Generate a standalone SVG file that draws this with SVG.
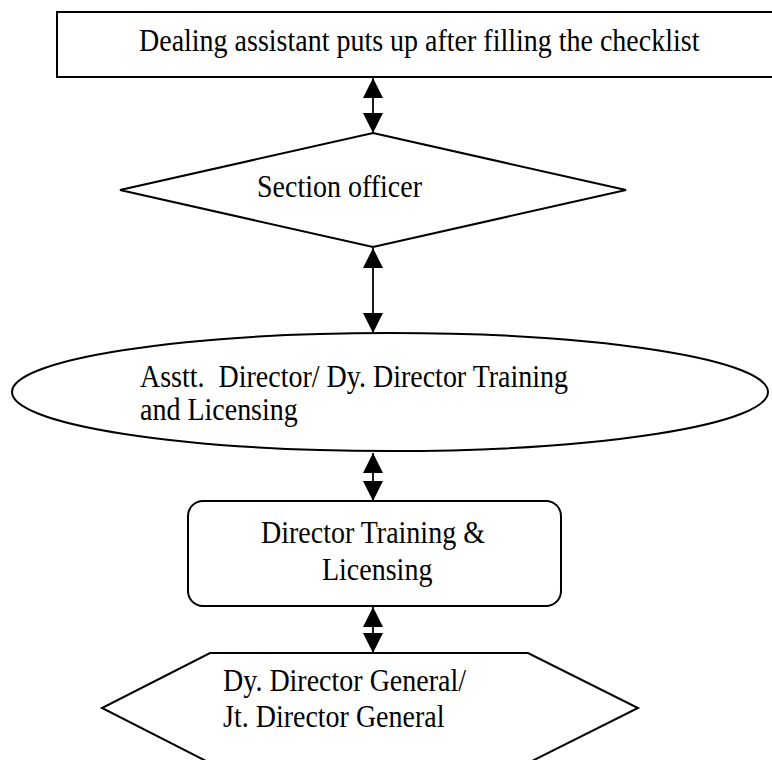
<svg xmlns="http://www.w3.org/2000/svg" width="772" height="760" viewBox="0 0 772 760">
<style>
.s{fill:#fff;stroke:#000;stroke-width:2}
.t{font-family:"Liberation Serif","Times New Roman",serif;font-size:28px;fill:#000}
.c{stroke:#000;stroke-width:1.8;fill:none;marker-start:url(#ah);marker-end:url(#ah)}
</style>
<defs>
<marker id="ah" markerUnits="userSpaceOnUse" viewBox="0 0 20 20" markerWidth="20" markerHeight="20" refX="20" refY="10" orient="auto-start-reverse">
<path d="M0,0 L20,10 L0,20 z" fill="#000"/>
</marker>
</defs>
<rect width="772" height="760" fill="#fff"/>
<g id="n1">
<rect class="s" x="57" y="12" width="730" height="65"/>
<text class="t" transform="translate(139 51) scale(1 1.1)">Dealing assistant puts up after filling the checklist</text>
</g>
<g id="n2">
<polygon class="s" points="373,133 626,190 373,247 120,190"/>
<text class="t" transform="translate(257 197) scale(1 1.1)">Section officer</text>
</g>
<g id="n3">
<ellipse class="s" cx="390" cy="392" rx="378" ry="59"/>
<text class="t" transform="translate(140 387) scale(1 1.1)" xml:space="preserve">Asstt.  Director/ Dy. Director Training</text>
<text class="t" transform="translate(140 420) scale(1 1.1)">and Licensing</text>
</g>
<g id="n4">
<rect class="s" x="188" y="501" width="373" height="105" rx="15" ry="15"/>
<text class="t" transform="translate(261 543) scale(1 1.1)">Director Training &amp;</text>
<text class="t" transform="translate(322 580) scale(1 1.1)">Licensing</text>
</g>
<g id="n5">
<polygon class="s" points="210,653 528,653 638,708 528,763 210,763 102,708"/>
<text class="t" transform="translate(223 691) scale(1 1.1)">Dy. Director General/</text>
<text class="t" transform="translate(223 727) scale(1 1.1)">Jt. Director General</text>
</g>
<g id="connectors">
<line class="c" x1="373" y1="78" x2="373" y2="133"/>
<line class="c" x1="373" y1="248" x2="373" y2="333"/>
<line class="c" x1="373" y1="453" x2="373" y2="501"/>
<line class="c" x1="373" y1="607" x2="373" y2="653"/>
</g>
</svg>
